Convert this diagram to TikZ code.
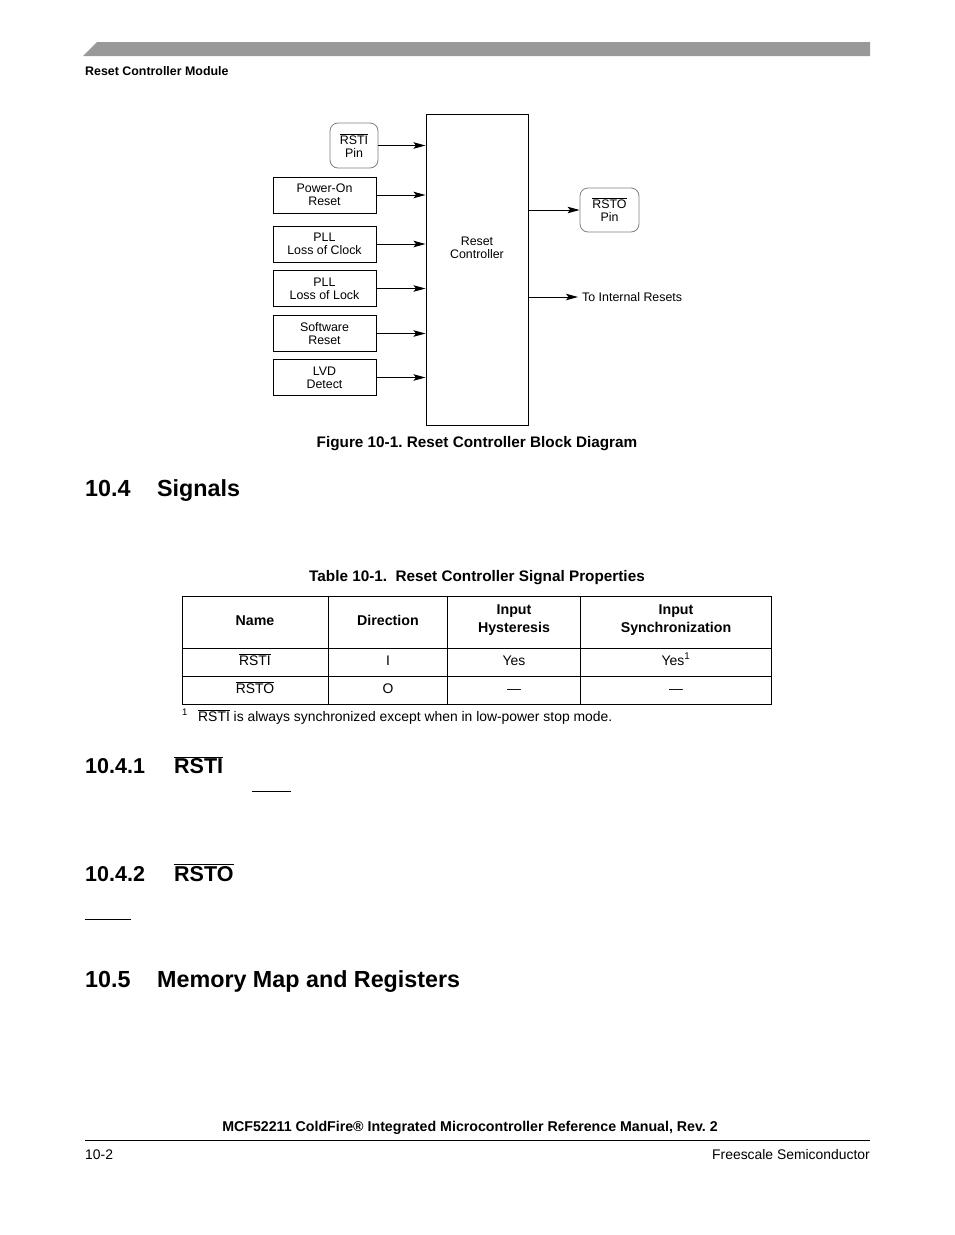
\documentclass[tikz,border=0pt]{standalone}
\usepackage{fontspec}
\setmainfont{Liberation Sans}
\usetikzlibrary{arrows.meta}
\frenchspacing
\newcommand\ovl[1]{\ensuremath{\overline{\mbox{#1}}}}
\newcommand\fdiag{\fontsize{12.4}{13.2}\selectfont}
\newcommand\fbody{\fontsize{13.9}{18}\selectfont}
\newcommand\fbold{\fontsize{14.2}{18}\selectfont\bfseries}
\newcommand\fcap{\fontsize{15.3}{18}\selectfont\bfseries}
\newcommand\fhone{\fontsize{23.3}{27}\selectfont\bfseries}
\newcommand\fhtwo{\fontsize{21.5}{25}\selectfont\bfseries}
\definecolor{bargray}{RGB}{153,153,153}
\definecolor{pingray}{RGB}{128,128,128}
\tikzset{
  dbox/.style={draw, line width=1pt, inner sep=0pt, align=center, font=\fdiag,
    minimum width=103pt, minimum height=36pt},
  pinbox/.style={draw=pingray, line width=0.8pt, rounded corners=8pt, inner sep=0pt,
    align=center, font=\fdiag},
  dtxt/.style={inner sep=0pt, align=center, font=\fdiag},
  arr/.style={line width=1pt, -{Stealth[length=12pt,width=6.5pt,inset=2.5pt]}},
  rule/.style={line width=1pt},
  btxt/.style={inner sep=0pt, font=\fbody},
  bbtxt/.style={inner sep=0pt, font=\fbold},
  captxt/.style={inner sep=0pt, font=\fcap},
}
\begin{document}
\begin{tikzpicture}[x=1pt,y=-1pt]
\useasboundingbox (0,0) rectangle (954,1235);
\fill[white] (0,0) rectangle (954,1235);
% header
\fill[bargray] (83,56) -- (97,42) -- (870,42) -- (870,56) -- cycle;
\node[inner sep=0pt, anchor=base west, font=\fontsize{12.4}{14}\selectfont\bfseries] (hdr) at (85,75) {Reset Controller Module};
% diagram
\node[draw, line width=1pt, minimum width=102pt, minimum height=311pt, inner sep=0pt] (ctrl) at (477,269.5) {};
\node[dtxt] (ctrllbl) at (477,248) {Reset\\Controller};
\node[pinbox, minimum width=48pt, minimum height=45pt] (rsti) at (354,145.5) {\ovl{RSTI}\\Pin};
\node[dbox] (por) at (324.5,195) {Power-On\\Reset};
\node[dbox] (loc) at (324.5,244) {PLL\\Loss of Clock};
\node[dbox] (lol) at (324.5,288.5) {PLL\\Loss of Lock};
\node[dbox] (swr) at (324.5,333.5) {Software\\Reset};
\node[dbox] (lvd) at (324.5,377.5) {LVD\\Detect};
\node[pinbox, minimum width=59pt, minimum height=44pt] (rsto) at (609.5,210) {\ovl{RSTO}\\Pin};
\node[dtxt, anchor=west, inner xsep=4pt] (intl) at (578,297) {To Internal Resets};
\foreach \n in {rsti,por,loc,lol,swr,lvd}
  \draw[arr] (\n.east) -- (\n.east -| ctrl.west);
\draw[arr] (ctrl.east |- rsto.west) -- (rsto.west);
\draw[arr] (ctrl.east |- intl.west) -- (intl.west);
\node[captxt, anchor=base] (figcap) at (477,447.5) {Figure 10-1. Reset Controller Block Diagram};
% section 10.4
\node[inner sep=0pt, anchor=base west, font=\fhone] (s104n) at (85,496) {10.4};
\node[inner sep=0pt, anchor=base west, font=\fhone] (s104t) at (157,496) {Signals};
% table
\node[captxt, anchor=base] (tabcap) at (477,581.5) {Table 10-1.\ \ Reset Controller Signal Properties};
\draw[rule] (182,596) rectangle (771,704);
\draw[rule] (182,648) -- (771,648);
\draw[rule] (182,676) -- (771,676);
\foreach \cx in {328,447,580} \draw[rule] (\cx,596) -- (\cx,704);
\node[bbtxt, anchor=base] (h1) at (255,625) {Name};
\node[bbtxt, anchor=base] (h2) at (388,625) {Direction};
\node[bbtxt, align=center] (h3) at (514,620) {Input\\Hysteresis};
\node[bbtxt, align=center] (h4) at (676,620) {Input\\Synchronization};
\node[btxt, anchor=base] (r1a) at (255,665) {\ovl{RSTI}};
\node[btxt, anchor=base] (r1b) at (388,665) {I};
\node[btxt, anchor=base] (r1c) at (514,665) {Yes};
\node[btxt, anchor=base] (r1d) at (676,665) {Yes\textsuperscript{1}};
\node[btxt, anchor=base] (r2a) at (255,693) {\ovl{RSTO}};
\node[btxt, anchor=base] (r2b) at (388,693) {O};
\node[btxt, anchor=base] (r2c) at (514,693) {—};
\node[btxt, anchor=base] (r2d) at (676,693) {—};
\node[inner sep=0pt, anchor=base west, font=\fontsize{9.5}{10}\selectfont] (fnm) at (182,715) {1};
\node[btxt, anchor=base west] (fnt) at (198,721) {\ovl{RSTI} is always synchronized except when in low-power stop mode.};
% 10.4.1 / 10.4.2
\node[inner sep=0pt, anchor=base west, font=\fhtwo] (s1n) at (85,773.5) {10.4.1};
\node[inner sep=0pt, anchor=base west, font=\fhtwo] (s1t) at (174,773.5) {\ovl{RSTI}};
\draw[rule] (252,791) -- (291,791);
\node[inner sep=0pt, anchor=base west, font=\fhtwo] (s2n) at (85,881) {10.4.2};
\node[inner sep=0pt, anchor=base west, font=\fhtwo] (s2t) at (174,881) {\ovl{RSTO}};
\draw[rule] (85,919) -- (131,919);
% 10.5
\node[inner sep=0pt, anchor=base west, font=\fhone] (s5n) at (85,987) {10.5};
\node[inner sep=0pt, anchor=base west, font=\fhone] (s5t) at (157,987) {Memory Map and Registers};
% footer
\node[bbtxt, anchor=base] (ftitle) at (470,1131) {MCF52211 ColdFire® Integrated Microcontroller Reference Manual, Rev. 2};
\draw[rule] (85,1140) -- (870,1140);
\node[btxt, anchor=base west] (fpg) at (85,1159) {10-2};
\node[btxt, anchor=base east] (fco) at (870,1159) {Freescale Semiconductor};
\end{tikzpicture}
\end{document}
